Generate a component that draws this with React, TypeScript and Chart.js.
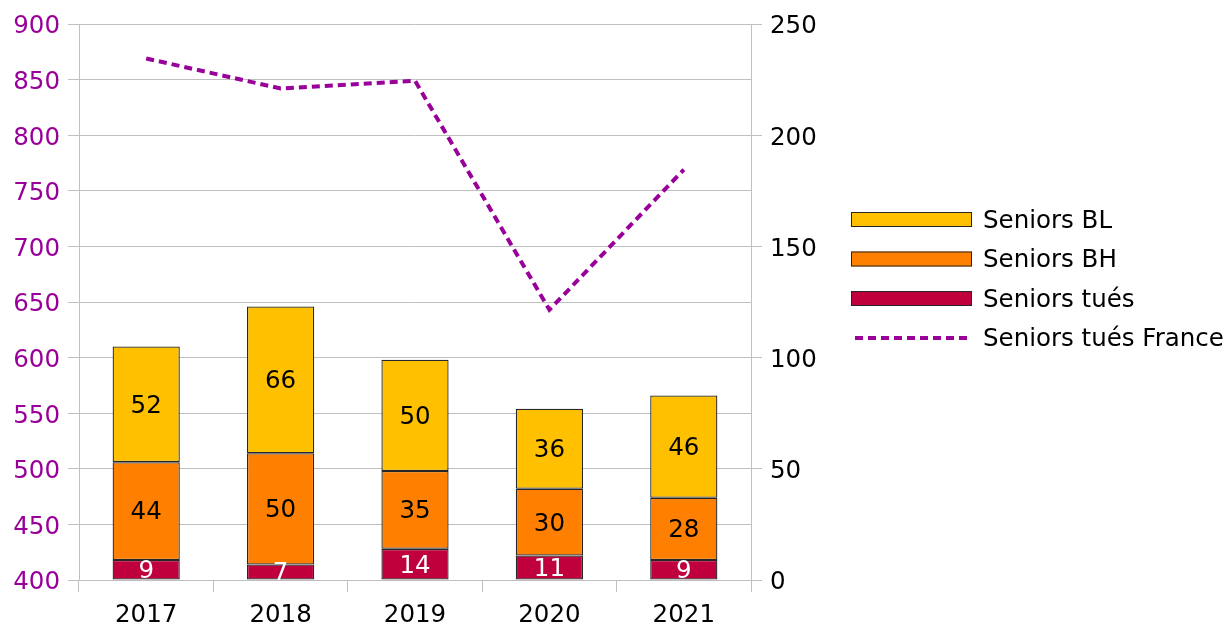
import React, { useEffect, useRef } from "react";
import { Chart, registerables } from "chart.js";

Chart.register(...registerables);

// ---- Data ----
const years = ["2017", "2018", "2019", "2020", "2021"];
const seniorsTues = [9, 7, 14, 11, 9];
const seniorsBH = [44, 50, 35, 30, 28];
const seniorsBL = [52, 66, 50, 36, 46];
const seniorsTuesFrance = [869, 842, 849, 643, 769];

const leftAxis = { min: 400, max: 900, step: 50 };
const rightAxis = { min: 0, max: 250, step: 50 };

const legendOrder = ["Seniors BL", "Seniors BH", "Seniors tués", "Seniors tués France"];

// ---- Styles ----
const FONT = "'DejaVu Sans', sans-serif";
const FONT_SIZE = 24.5;
const GRID = "#BFBFBF";
const PURPLE = "#990099";
const COLORS: Record<string, string> = {
  "Seniors BL": "#FFC000",
  "Seniors BH": "#FF8000",
  "Seniors tués": "#C0003C",
  "Seniors tués France": PURPLE,
};
const LABEL_COLORS: Record<string, string> = {
  "Seniors BL": "#000000",
  "Seniors BH": "#000000",
  "Seniors tués": "#FFFFFF",
};
const BAR_BORDER = "#262626";
const LINE_DASH = [8, 5];

const barLabelPlugin = {
  id: "barLabels",
  afterDatasetsDraw(chart: any) {
    const ctx = chart.ctx;
    const a = chart.chartArea;
    ctx.save();
    ctx.beginPath();
    ctx.rect(a.left, a.top, a.right - a.left, a.bottom - a.top);
    ctx.clip();
    ctx.font = `${FONT_SIZE}px ${FONT}`;
    ctx.textAlign = "center";
    ctx.textBaseline = "middle";
    chart.data.datasets.forEach((ds: any, i: number) => {
      if (ds.type !== "bar") return;
      const meta = chart.getDatasetMeta(i);
      meta.data.forEach((el: any, j: number) => {
        const p = el.getProps(["x", "y", "base"], true);
        ctx.fillStyle = LABEL_COLORS[ds.label] || "#000";
        ctx.fillText(String(ds.data[j]), p.x, (p.y + p.base) / 2 + 2);
      });
    });
    ctx.restore();
  },
};

const sideLegendPlugin = {
  id: "sideLegend",
  afterDraw(chart: any) {
    const ctx = chart.ctx;
    const x0 = 851;
    const w = 121;
    const rectH = 15;
    const yCenters = [219.5, 259, 298.5, 338];
    const textX = 983;
    ctx.save();
    ctx.font = `${FONT_SIZE}px ${FONT}`;
    ctx.textAlign = "left";
    ctx.textBaseline = "middle";
    legendOrder.forEach((label, k) => {
      const ds = chart.data.datasets.find((d: any) => d.label === label);
      if (!ds) return;
      const yc = yCenters[k];
      if (ds.type === "bar") {
        ctx.fillStyle = ds.backgroundColor;
        ctx.fillRect(x0, yc - rectH / 2, w, rectH);
        ctx.lineWidth = 1;
        ctx.strokeStyle = BAR_BORDER;
        ctx.strokeRect(x0 + 0.5, yc - rectH / 2 + 0.5, w - 1, rectH - 1);
      } else {
        ctx.beginPath();
        ctx.setLineDash(LINE_DASH);
        ctx.lineWidth = 4;
        ctx.strokeStyle = ds.borderColor;
        ctx.moveTo(x0 + 4, yc);
        ctx.lineTo(x0 + w, yc);
        ctx.stroke();
        ctx.setLineDash([]);
      }
      ctx.fillStyle = "#000";
      ctx.fillText(label, textX, yc + 2);
    });
    ctx.restore();
  },
};

export default function App() {
  const canvasRef = useRef<HTMLCanvasElement | null>(null);

  useEffect(() => {
    if (!canvasRef.current) return;
    const barDs = (label: string, data: number[]) => ({
      type: "bar" as const,
      label,
      data,
      yAxisID: "y2",
      backgroundColor: COLORS[label],
      borderColor: BAR_BORDER,
      borderWidth: 1.3,
      borderSkipped: false,
      barPercentage: 0.5,
      categoryPercentage: 1,
      stack: "s",
    });
    const chart = new Chart(canvasRef.current, {
      data: {
        labels: years,
        datasets: [
          {
            type: "line" as const,
            label: "Seniors tués France",
            data: seniorsTuesFrance,
            yAxisID: "y",
            borderColor: PURPLE,
            backgroundColor: PURPLE,
            borderWidth: 4,
            borderDash: LINE_DASH,
            pointRadius: 0,
            tension: 0,
            fill: false,
          },
          barDs("Seniors tués", seniorsTues),
          barDs("Seniors BH", seniorsBH),
          barDs("Seniors BL", seniorsBL),
        ] as any,
      },
      options: {
        animation: false,
        responsive: true,
        maintainAspectRatio: false,
        layout: { padding: { top: 24, right: 378, bottom: 0, left: 0 } },
        plugins: {
          legend: { display: false },
          tooltip: { enabled: false },
        },
        scales: {
          x: {
            stacked: true,
            grid: {
              offset: true,
              drawOnChartArea: false,
              drawTicks: true,
              tickLength: 12,
              color: GRID,
            },
            border: { display: true, color: GRID },
            ticks: { color: "#000", font: { size: FONT_SIZE, family: FONT }, padding: 9 },
            afterFit: (s: any) => {
              s.height = 46;
            },
          },
          y: {
            position: "left",
            min: leftAxis.min,
            max: leftAxis.max,
            stacked: false,
            ticks: {
              stepSize: leftAxis.step,
              color: PURPLE,
              font: { size: FONT_SIZE, family: FONT },
              padding: 8,
              labelOffset: 3,
            },
            grid: { color: GRID, tickLength: 11 },
            border: { display: true, color: GRID },
            afterFit: (s: any) => {
              s.width = 79;
            },
          },
          y2: {
            position: "right",
            min: rightAxis.min,
            max: rightAxis.max,
            stacked: true,
            ticks: {
              stepSize: rightAxis.step,
              color: "#000",
              font: { size: FONT_SIZE, family: FONT },
              padding: 8,
              labelOffset: 3,
            },
            grid: { drawOnChartArea: false, color: GRID, tickLength: 11 },
            border: { display: true, color: GRID },
            afterFit: (s: any) => {
              s.width = 100;
            },
          },
        } as any,
      },
      plugins: [barLabelPlugin, sideLegendPlugin],
    });
    return () => chart.destroy();
  }, []);

  return (
    <div style={{ position: "fixed", left: 0, top: 0, width: 1229, height: 626, background: "#fff" }}>
      <canvas ref={canvasRef} />
    </div>
  );
}
